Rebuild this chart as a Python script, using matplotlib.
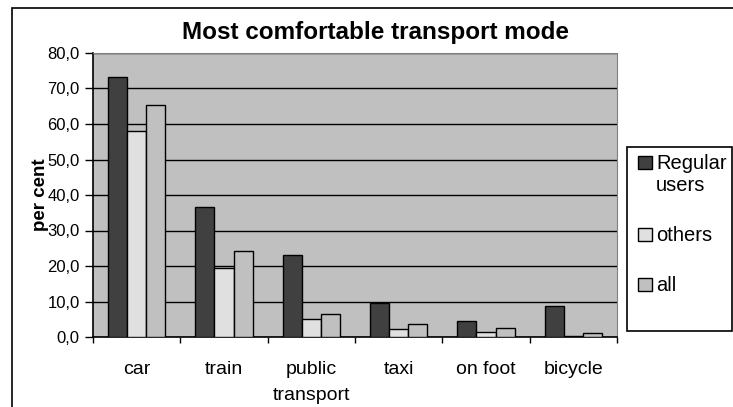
import numpy as np
import matplotlib.pyplot as plt
from matplotlib.patches import Rectangle
from matplotlib.legend_handler import HandlerPatch

plt.rcParams['font.family'] = ['Liberation Sans', 'DejaVu Sans']

modes = ['car', 'train', 'public\ntransport', 'taxi', 'on foot', 'bicycle']
regular = [73.3, 36.7, 23.2, 9.5, 4.4, 8.8]
others = [58.0, 19.3, 5.0, 2.2, 1.5, 0.4]
all_users = [65.4, 24.2, 6.6, 3.8, 2.6, 1.0]
series_names = ['Regular\nusers', 'others', 'all']
colors = ['#404040', '#e0e0e0', '#c0c0c0']

W, H = 733, 407
fig = plt.figure(figsize=(W / 100, H / 100), dpi=100)
fig.patch.set_facecolor('white')

# outer chart frame
fig.patches.append(Rectangle((12 / W, -0.1), 1.2, (H - 8) / H + 0.1,
                             transform=fig.transFigure, fill=False,
                             edgecolor='black', linewidth=1.2))

ax = fig.add_axes([93 / W, 1 - 337 / H, (617 - 93) / W, (337 - 53) / H])
ax.set_facecolor('#c0c0c0')

x = np.arange(len(modes))
w = 0.22
handles = []
for i, (vals, c, name) in enumerate(zip([regular, others, all_users], colors, series_names)):
    b = ax.bar(x + (i - 1) * w, vals, w, color=c, edgecolor='black',
               linewidth=1.0, label=name, zorder=3)
    handles.append(b.patches[0])

ax.set_xlim(-0.5, len(modes) - 0.5)
ax.set_ylim(0, 80)
ax.set_yticks(np.arange(0, 81, 10))
ax.set_yticklabels([f'{v:.1f}'.replace('.', ',') for v in np.arange(0, 81, 10)], fontsize=12)
ax.yaxis.grid(True, color='black', linewidth=1.0, zorder=1)
ax.set_axisbelow(True)

ax.set_xticks(x)
ax.set_xticklabels(modes, fontsize=14, linespacing=1.7)
ax.set_xticks(np.arange(-0.5, len(modes), 1), minor=True)
ax.tick_params(axis='x', which='major', length=0, pad=17)
ax.tick_params(axis='x', which='minor', length=4.5, direction='out', width=1)
ax.tick_params(axis='y', length=5.5, direction='out', width=1, pad=4)

for s in ['top', 'right']:
    ax.spines[s].set_color('#808080')
for s in ['left', 'bottom']:
    ax.spines[s].set_color('black')
    ax.spines[s].set_linewidth(1.2)

ax.set_ylabel('per cent', fontsize=13.5, fontweight='bold', labelpad=-1)
fig.text(375 / W, 1 - 33 / H, 'Most comfortable transport mode',
         ha='center', va='center', fontsize=17.5, fontweight='bold')


def top_aligned(legend, orig_handle, xdescent, ydescent, width, height, fontsize):
    # handle sits beside the first line of a two-line label
    return Rectangle((-xdescent, -ydescent + 0.6 * fontsize), width, height)


# legend frame
fig.patches.append(Rectangle((627 / W, 1 - 331 / H), (732 - 627) / W, (331 - 147) / H,
                             transform=fig.transFigure, fill=False,
                             edgecolor='black', linewidth=1.2))
leg = ax.legend(handles, series_names, loc='upper left',
                bbox_to_anchor=(638 / W, 1 - 154 / H),
                bbox_transform=fig.transFigure, fontsize=14.5,
                frameon=False, handlelength=0.7, handleheight=0.6,
                handletextpad=0.2, labelspacing=1.55, borderpad=0,
                borderaxespad=0,
                handler_map={handles[0]: HandlerPatch(patch_func=top_aligned)})

fig.savefig('out.png', dpi=100)
